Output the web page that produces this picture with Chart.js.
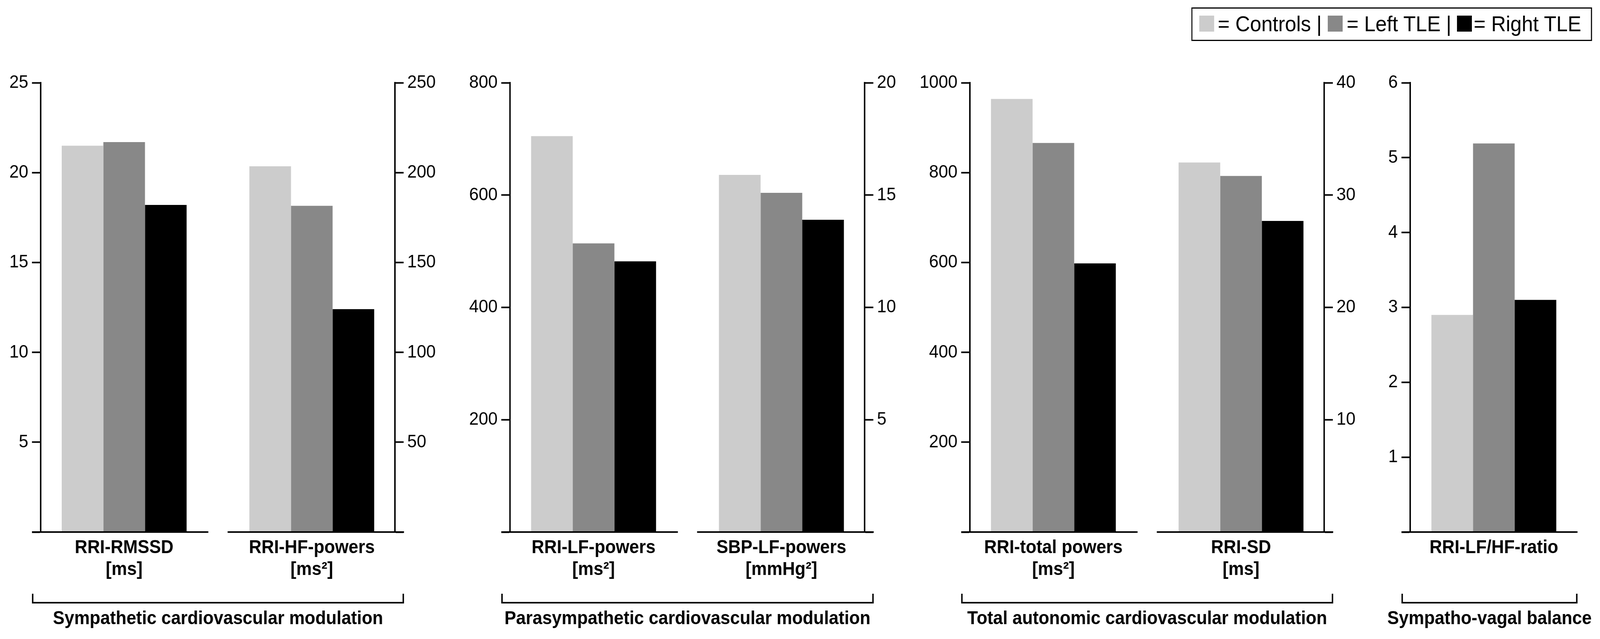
<!DOCTYPE html>
<html><head><meta charset="utf-8">
<script src="https://cdn.jsdelivr.net/npm/chart.js@4.4.0/dist/chart.umd.min.js"></script>
<style>
html,body{margin:0;padding:0;background:#fff;overflow:hidden;}
#wrap{position:relative;width:100vw;height:1637px;overflow:hidden;}
#page{position:absolute;left:0;top:0;width:4408px;height:1637px;overflow:hidden;background:#fff;font-family:'Liberation Sans',Arial,sans-serif;transform-origin:0 0;}
canvas{position:absolute;top:0;}
.lg{position:absolute;font-size:56px;line-height:56px;top:33px;color:#000;white-space:nowrap;}
.sw{position:absolute;top:40px;width:41px;height:41px;}
#lgbox{position:absolute;left:3282px;top:19px;width:1104px;height:86px;border:3px solid #000;box-sizing:border-box;}
</style></head><body>
<div id="wrap"><div id="page">
  <canvas id="c1" width="1201" height="1637" style="left:0px;width:1201px;height:1637px"></canvas>
  <canvas id="c2" width="1208" height="1637" style="left:1290px;width:1208px;height:1637px"></canvas>
  <canvas id="c3" width="1261" height="1637" style="left:2530px;width:1261px;height:1637px"></canvas>
  <canvas id="c4" width="607" height="1637" style="left:3800px;width:607px;height:1637px"></canvas>
  <div id="lgbox"></div>
  <div class="sw" style="left:3304px;background:#cccccc"></div>
  <div class="lg" style="left:3355px">= Controls</div>
  <div class="lg" style="left:3627px">|</div>
  <div class="sw" style="left:3658px;background:#888888"></div>
  <div class="lg" style="left:3710px">= Left TLE</div>
  <div class="lg" style="left:3984px">|</div>
  <div class="sw" style="left:4014px;background:#000000"></div>
  <div class="lg" style="left:4060px">= Right TLE</div>
</div></div>
<script>
// ---- data ----
const seriesNames = ['Controls', 'Left TLE', 'Right TLE'];
const seriesColors = ['#cccccc', '#888888', '#000000'];
// measures: RRI-RMSSD, RRI-HF, RRI-LF, SBP-LF, RRI-total, RRI-SD, LF/HF
const controls = [21.5, 203.5, 705, 15.9, 964, 32.9, 2.9];
const leftTLE  = [21.7, 181.5, 514, 15.1, 866, 31.7, 5.19];
const rightTLE = [18.2, 124.0, 482, 13.9, 598, 27.7, 3.1];
const labelsP1 = [['RRI-RMSSD', '[ms]'], ['RRI-HF-powers', '[ms²]']];
const labelsP2 = [['RRI-LF-powers', '[ms²]'], ['SBP-LF-powers', '[mmHg²]']];
const labelsP3 = [['RRI-total powers', '[ms²]'], ['RRI-SD', '[ms]']];
const labelsP4 = ['RRI-LF/HF-ratio'];
const panelTitles = ['Sympathetic cardiovascular modulation', 'Parasympathetic cardiovascular modulation',
  'Total autonomic cardiovascular modulation', 'Sympatho-vagal balance'];
const yMaxLeft = [25, 800, 1000, 6];
const yStepLeft = [5, 200, 200, 1];
const yMaxRight = [250, 20, 40];
const yStepRight = [50, 5, 10];

// fit the 4408-wide design into the actual window width
const sx = Math.min(1, window.innerWidth / 4408);
document.getElementById('page').style.transform = 'scale(' + sx + ',1)';

const series = [controls, leftTLE, rightTLE];
Chart.defaults.font.family = "'Liberation Sans', Arial, sans-serif";
Chart.defaults.color = '#000';

const decor = {
  id: 'decor',
  afterDraw(chart, args, opts) {
    const {ctx, chartArea: a} = chart;
    ctx.save();
    ctx.strokeStyle = '#000'; ctx.lineWidth = 4; ctx.lineCap = 'butt'; ctx.lineJoin = 'miter';
    const x0 = a.left - 24;
    const x1 = opts.split ? a.right + 25 : a.right;
    const y = a.bottom;
    ctx.beginPath();
    if (opts.split) {
      const m = (a.left + a.right) / 2;
      ctx.moveTo(x0, y); ctx.lineTo(m - 26, y);
      ctx.moveTo(m + 27, y); ctx.lineTo(x1, y);
    } else {
      ctx.moveTo(x0, y); ctx.lineTo(x1, y);
    }
    ctx.stroke();
    const by = a.bottom + 181, bt = by - 23;
    ctx.beginPath();
    ctx.moveTo(x0 + 2, bt); ctx.lineTo(x0 + 2, by); ctx.lineTo(x1 - 2, by); ctx.lineTo(x1 - 2, bt);
    ctx.stroke();
    ctx.restore();
  }
};

function buildDatasets(measures, axisIds, cp) {
  const ds = [];
  measures.forEach((m, pos) => {
    series.forEach((s, k) => {
      const data = measures.map((_, p) => (p === pos ? s[m] : null));
      ds.push({label: seriesNames[k], data, yAxisID: axisIds[pos], backgroundColor: seriesColors[k],
        borderWidth: 0, skipNull: true, categoryPercentage: cp, barPercentage: 1});
    });
  });
  return ds;
}

function yScale(pos, max, step, w) {
  return {type: 'linear', position: pos, min: 0, max,
    ticks: {stepSize: step, padding: 10, color: '#000', font: {size: 47}, callback: v => (v === 0 ? '' : v)},
    grid: {display: true, drawOnChartArea: false, drawTicks: true, tickLength: 24, tickWidth: 4, tickColor: '#000', color: '#000'},
    border: {display: true, color: '#000', width: 4},
    afterFit: s => { s.width = w; }};
}

function xScale(split) {
  return {type: 'category', offset: true,
    grid: {display: false, drawTicks: false, tickLength: 0},
    border: {display: false},
    ticks: {autoSkip: false, maxRotation: 0, minRotation: 0, padding: 13, color: '#000',
      font: {size: 48, weight: 'bold', lineHeight: 1.17}},
    afterBuildTicks: s => { if (split) { s._startValue = -0.445; s._valueRange = 1.888; } },
    afterFit: s => { s.height = 194.4; }};
}

function makePanel(id, labels, measures, pi, wl, wr) {
  const split = measures.length === 2;
  const scales = {x: xScale(split), yL: yScale('left', yMaxLeft[pi], yStepLeft[pi], wl)};
  if (split) scales.yR = yScale('right', yMaxRight[pi], yStepRight[pi], wr);
  else scales.pad = {type: 'linear', position: 'right', display: true, ticks: {display: false},
    grid: {display: false, drawTicks: false}, border: {display: false}, afterFit: s => { s.width = wr; }};
  new Chart(document.getElementById(id), {
    type: 'bar',
    data: {labels, datasets: buildDatasets(measures, split ? ['yL', 'yR'] : ['yL'], split ? 0.6654 : 0.7462)},
    options: {
      responsive: false, animation: false,
      layout: {padding: {top: 212, bottom: 0, left: 0, right: 0}},
      scales,
      plugins: {
        legend: {display: false}, tooltip: {enabled: false},
        title: {display: true, position: 'bottom', text: panelTitles[pi], color: '#000',
          font: {size: 48, weight: 'bold', lineHeight: 1.2}, padding: {top: 0, bottom: 22}},
        decor: {split}
      }
    },
    plugins: [decor]
  });
}

makePanel('c1', labelsP1, [0, 1], 0, 112, 113);
makePanel('c2', labelsP2, [2, 3], 1, 115, 116);
makePanel('c3', labelsP3, [4, 5], 2, 142, 143);
makePanel('c4', labelsP4, [6], 3, 85, 61);
</script>
</body></html>
